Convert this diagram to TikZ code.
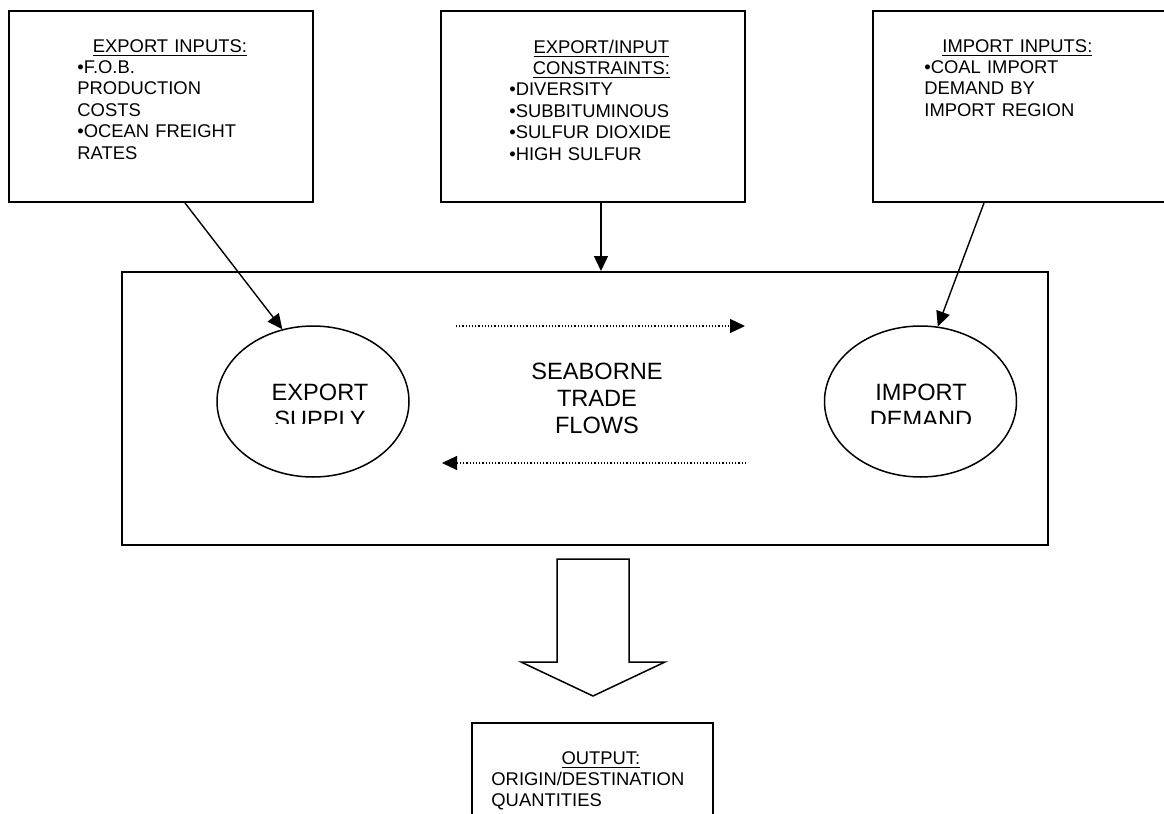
\documentclass[tikz,border=0pt]{standalone}
\usepackage{fontspec}
\setmainfont{Liberation Sans}
\usetikzlibrary{arrows.meta,shapes.geometric}
\begin{document}
\begin{tikzpicture}[x=0.5pt,y=-0.5pt,
    box/.style={draw,line width=1pt,minimum width=152pt,minimum height=95.5pt,inner sep=0pt},
    txt/.style={inner sep=0pt,anchor=base west,align=left,font=\fontsize{9.2}{10.7}\selectfont},
    oval/.style={draw,ellipse,line width=0.75pt,minimum width=96pt,minimum height=75.5pt,inner sep=0pt},
    big/.style={inner sep=0pt,anchor=base,align=center,text width=80pt,font=\fontsize{11.8}{13.5}\selectfont},
    conn/.style={line width=0.7pt,-{Triangle[length=7.5pt,width=7pt]}},
    flow/.style={line width=0.6pt,densely dotted,-{Triangle[length=7.5pt,width=7pt]}}]
  \useasboundingbox (0,0) rectangle (1164,814);
  \clip (0,0) rectangle (1164,814);
  \node[box] (inA) at (161,106.5) {};
  \node[box] (inC) at (593,106.5) {};
  \node[box] (inB) at (1025,106.5) {};
  \node[txt,text width=92.5pt] (tA) at (77,52) {\makebox[\linewidth]{\underline{EXPORT INPUTS:}}\\ •F.O.B.\\ PRODUCTION\\ COSTS\\ •OCEAN FREIGHT\\ RATES};
  \node[txt,text width=92pt] (tC) at (509,53) {\makebox[\linewidth]{\underline{EXPORT/INPUT}}\\ \makebox[\linewidth]{\underline{CONSTRAINTS:}}\\ •DIVERSITY\\ •SUBBITUMINOUS\\ •SULFUR DIOXIDE\\ •HIGH SULFUR};
  \node[txt,text width=93pt] (tB) at (924,52) {\makebox[\linewidth]{\underline{IMPORT INPUTS:}}\\ •COAL IMPORT\\ DEMAND BY\\ IMPORT REGION};
  \node[draw,line width=1pt,minimum width=463pt,minimum height=136.5pt,inner sep=0pt] (model) at (585,408.5) {};
  \node[oval] (eA) at (313,401.5) {};
  \node[oval] (eB) at (920.5,401.5) {};
  \begin{scope}
    \clip (200,360) rectangle (1040,423);
    \node[big] (sA) at (320,400) {EXPORT\\SUPPLY};
    \node[big] (sB) at (921,400) {IMPORT\\DEMAND};
  \end{scope}
  \node[big] (trade) at (597,379) {SEABORNE\\TRADE\\FLOWS};
  \coordinate (f1) at (456,326);
  \coordinate (f2) at (745,326);
  \coordinate (f3) at (746,463);
  \coordinate (f4) at (442,463);
  \draw[flow] (f1) -- (f2);
  \draw[flow] (f3) -- (f4);
  \draw[conn] ([xshift=12pt]inA.south) -- (eA.113);
  \draw[conn] ([xshift=4pt]inC.south) -- ([xshift=4pt]inC.south |- model.north);
  \draw[conn] ([xshift=-20.5pt]inB.south) -- (eB.77);
  \draw[line width=0.75pt] (557,559) -- (629,559) -- (629,662) -- (665,662) -- (593,696) -- (521,662) -- (557,662) -- cycle;
  \node[draw,line width=1pt,minimum width=120.5pt,minimum height=55pt,inner sep=0pt] (out) at (592.5,778) {};
  \node[txt,text width=109.5pt] (tOut) at (491,764) {\makebox[\linewidth]{\underline{OUTPUT:}}\\ ORIGIN/DESTINATION\\ QUANTITIES};
\end{tikzpicture}
\end{document}
